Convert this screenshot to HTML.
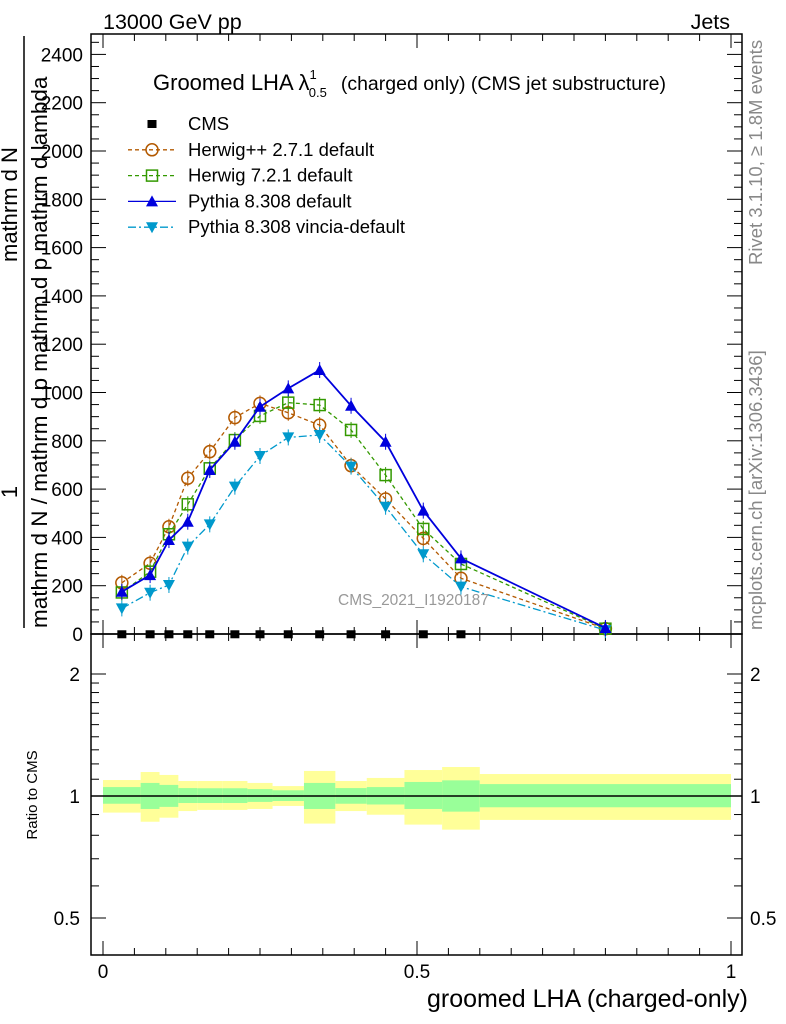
<!DOCTYPE html>
<html><head><meta charset="utf-8">
<style>
body{margin:0;background:#fff;}
svg{display:block;font-family:"Liberation Sans",sans-serif;}
</style></head>
<body>
<svg id="c" width="786" height="1024" viewBox="0 0 786 1024"></svg>
<script>
const edges=[0,0.06,0.09,0.12,0.15,0.19,0.23,0.27,0.32,0.37,0.42,0.48,0.54,0.60,1.0];
const mids=[0.03,0.075,0.105,0.135,0.17,0.21,0.25,0.295,0.345,0.395,0.45,0.51,0.57,0.8];
const cms=[3,3,3,3,3,3,3,3,3,3,3,3,3];
const herwigpp=[212,293,444,645,755,896,955,916,865,697,559,396,231,22];
const herwig7=[172,258,413,537,686,803,903,958,948,845,658,435,290,22];
const pythia=[175,244,389,465,679,796,941,1017,1093,945,796,511,313,25];
const vincia=[106,171,203,362,454,610,737,814,824,693,527,330,196,16];
const yelHi=[1.095,1.146,1.127,1.089,1.089,1.089,1.077,1.058,1.153,1.089,1.108,1.159,1.179,1.133];
const grnHi=[1.052,1.077,1.065,1.046,1.045,1.045,1.04,1.033,1.077,1.046,1.052,1.083,1.093,1.07];
const grnLo=[0.957,0.929,0.94,0.961,0.961,0.961,0.967,0.972,0.929,0.957,0.953,0.929,0.915,0.938];
const yelLo=[0.91,0.864,0.884,0.918,0.924,0.924,0.929,0.945,0.855,0.918,0.899,0.85,0.826,0.873];
const yTicks=[0,200,400,600,800,1000,1200,1400,1600,1800,2000,2200,2400];
const rTicks=[0.5,1,2];

const NS="http://www.w3.org/2000/svg";
const svg=document.getElementById('c');
function el(t,a,p){const e=document.createElementNS(NS,t);for(const k in a)e.setAttribute(k,a[k]);(p||svg).appendChild(e);return e;}
const L=91,R=742,T=34,MB=634,RB=955;
const X=v=>103+v*628;
const Y=v=>634-v*0.2415;
const RY=v=>796-Math.log2(v)*122;

const gb=el('g',{});


for(let i=0;i<mids.length;i++){
  const x0=X(edges[i]),x1=X(edges[i+1]);
  const y=el('rect',{x:x0,y:RY(yelHi[i]),width:x1-x0,height:RY(yelLo[i])-RY(yelHi[i]),fill:'#ffff99'},gb);
  
  
  const g=el('rect',{x:x0,y:RY(grnHi[i]),width:x1-x0,height:RY(grnLo[i])-RY(grnHi[i]),fill:'#99ff99'},gb);
  
  
}
const one=el('line',{x1:L,x2:R,y1:RY(1),y2:RY(1),stroke:'#000','stroke-width':1.5});



el('rect',{x:L,y:T,width:R-L,height:MB-T,fill:'none',stroke:'#000','stroke-width':1.5});
el('rect',{x:L,y:MB,width:R-L,height:RB-MB,fill:'none',stroke:'#000','stroke-width':1.5});

for(let k=0;k<=20;k++){
  const v=k*0.05,x=X(v),maj=k%10==0,len=maj?14:7;
  [[T,1],[MB,-1],[MB,1],[RB,-1]].forEach(([y0,d])=>el('line',{x1:x,x2:x,y1:y0,y2:y0+d*len,stroke:'#000','stroke-width':1}));
}
[0,0.5,1].forEach(v=>{const t=el('text',{x:X(v),y:978,'text-anchor':'middle','font-size':19});t.textContent=String(v);
});
for(let v=0;v<=2450;v+=50){
  const y=Y(v),maj=v%200==0,len=maj?15:8;
  el('line',{x1:L,x2:L+len,y1:y,y2:y,stroke:'#000'});
  el('line',{x1:R,x2:R-len,y1:y,y2:y,stroke:'#000'});
}
yTicks.forEach(v=>{const t=el('text',{x:83,y:Y(v)+7,'text-anchor':'end','font-size':19});t.textContent=String(v);
});
[0.5,0.6,0.7,0.8,0.9,1,1.1,1.2,1.3,1.4,1.5,1.6,1.7,1.8,1.9,2].forEach(v=>{
  const y=RY(v),maj=rTicks.includes(v),len=maj?15:8;
  el('line',{x1:L,x2:L+len,y1:y,y2:y,stroke:'#000'});
  el('line',{x1:R,x2:R-len,y1:y,y2:y,stroke:'#000'});
});
rTicks.forEach(v=>{
  const a=el('text',{x:80,y:RY(v)+7,'text-anchor':'end','font-size':19});a.textContent=String(v);
  
  const b=el('text',{x:750,y:RY(v)+7,'font-size':19});b.textContent=String(v);
  
});

function marker(kind,x,y,c,g){
  if(kind=='circle')el('circle',{cx:x,cy:y,r:6,fill:'none',stroke:c,'stroke-width':1.5},g);
  else if(kind=='square')el('rect',{x:x-5.5,y:y-5.5,width:11,height:11,fill:'none',stroke:c,'stroke-width':1.5},g);
  else if(kind=='up')el('polygon',{points:`${x},${y-6} ${x-6},${y+5} ${x+6},${y+5}`,fill:c},g);
  else if(kind=='down')el('polygon',{points:`${x},${y+6} ${x-6},${y-5} ${x+6},${y-5}`,fill:c},g);
  else if(kind=='fsq')el('rect',{x:x-4.5,y:y-4,width:9,height:8,fill:c},g);
}
function series(name,vals,c,dash,kind,w){
  const g=el('g',{});
  
  
  const pts=vals.map((v,i)=>X(mids[i])+','+Y(v)).join(' ');
  const a={points:pts,fill:'none',stroke:c,'stroke-width':w};
  if(dash)a['stroke-dasharray']=dash;
  el('polyline',a,g);
  vals.forEach((v,i)=>{
    const x=X(mids[i]),y=Y(v);
    el('line',{x1:x,x2:x,y1:y-8,y2:y+8,stroke:c,'stroke-width':1},g);
    marker(kind,x,y,c,g);
  });
}
series('series-herwigpp',herwigpp,'#b35900','4,3','circle',1.3);
series('series-herwig7',herwig7,'#339900','4,3','square',1.3);
series('series-vincia',vincia,'#0099cc','8,3,2,3','down',1.3);
series('series-pythia',pythia,'#0000dd',null,'up',1.8);
const cg=el('g',{});


cms.forEach((v,i)=>marker('fsq',X(mids[i]),Y(v)+1,'#000',cg));

function txt(s,a,name){const t=el('text',a);t.textContent=s;return t;}
txt('13000 GeV pp',{x:103,y:29,'font-size':21.5},'energy-label');
txt('Jets',{x:730,y:29,'font-size':21.5,'text-anchor':'end'},'process-label');
const ti=txt('',{x:153,y:90,'font-size':22},'plot-title');
ti.innerHTML='Groomed LHA λ<tspan font-size="13" dy="-11">1</tspan><tspan font-size="13" dx="-8" dy="18">0.5</tspan><tspan font-size="19.5" dx="14" dy="-7">(charged only) (CMS jet substructure)</tspan>';
txt('CMS_2021_I1920187',{x:338,y:605,'font-size':15.5,fill:'#999'},'analysis-watermark');
txt('groomed LHA (charged-only)',{x:748,y:1007,'font-size':25,'text-anchor':'end'},'x-axis-title');
txt('Ratio to CMS',{x:0,y:0,'font-size':15,transform:'translate(37,795) rotate(-90)','text-anchor':'middle'},'ratio-y-title');
txt('Rivet 3.1.10, ≥ 1.8M events',{x:0,y:0,'font-size':18.5,fill:'#888',transform:'translate(762,265) rotate(-90)'},'rivet-label');
txt('mcplots.cern.ch [arXiv:1306.3436]',{x:0,y:0,'font-size':18.5,fill:'#888',transform:'translate(762,630) rotate(-90)'},'mcplots-label');
el('line',{x1:24,x2:24,y1:36,y2:628,stroke:'#000','stroke-width':1.5});
txt('1',{x:0,y:0,'font-size':22,transform:'translate(17,492) rotate(-90)','text-anchor':'middle'},'y-title-numerator');
txt('mathrm d N',{x:0,y:0,'font-size':22,transform:'translate(17,262) rotate(-90)'},'y-title-numerator-2');
txt('mathrm d N / mathrm d p  mathrm d p  mathrm d lambda',{x:0,y:0,'font-size':22.5,transform:'translate(47,628) rotate(-90)'},'y-title-denominator');

const leg=[['CMS',null,null,'fsq','#000'],['Herwig++ 2.7.1 default','#b35900','4,3','circle'],['Herwig 7.2.1 default','#339900','4,3','square'],['Pythia 8.308 default','#0000dd',null,'up'],['Pythia 8.308 vincia-default','#0099cc','8,3,2,3','down']];
leg.forEach((e,i)=>{
  const y=124+i*25.8;
  const g=el('g',{});
  
  
  const c=e[1]||e[4];
  if(e[1]){const a={x1:128,x2:176,y1:y,y2:y,stroke:c,'stroke-width':1.3};if(e[2])a['stroke-dasharray']=e[2];el('line',a,g);}
  marker(e[3],152,y,c,g);
  const t=el('text',{x:188,y:y+6,'font-size':18.5},g);t.textContent=e[0];
});
</script>
</body></html>
